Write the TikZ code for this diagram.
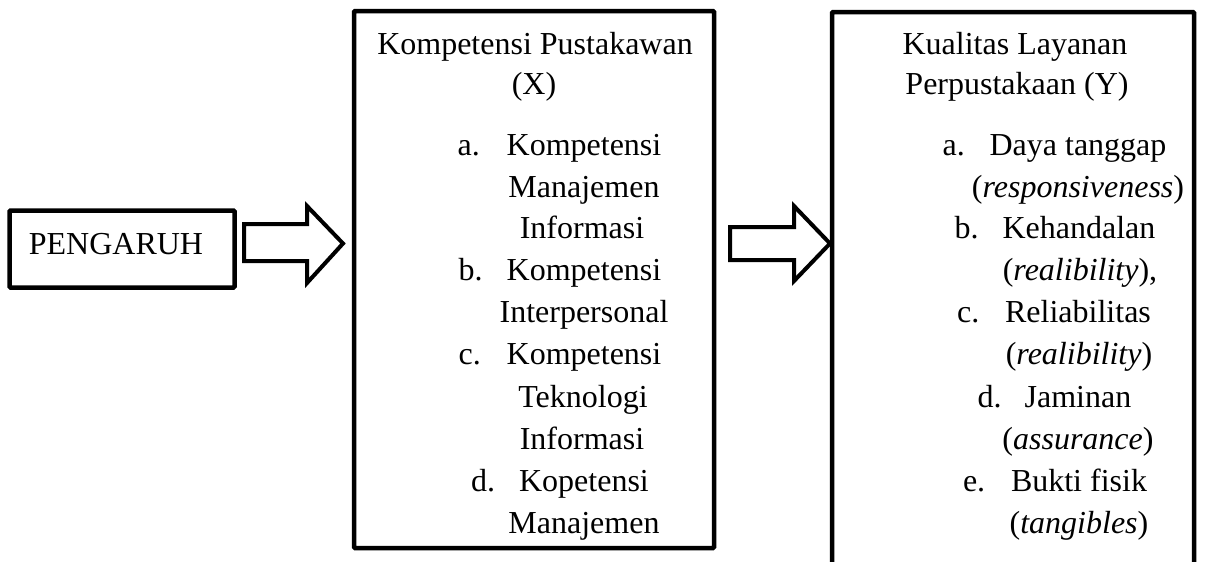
\documentclass[tikz,border=0pt]{standalone}
\usepackage{fontspec}
\setmainfont{Liberation Serif}
\begin{document}
\begin{tikzpicture}[x=1pt,y=-1pt,
  box/.style={draw, line width=4.5pt, inner sep=0pt, rounded corners=1pt},
  txt/.style={inner sep=0pt, anchor=base, font=\fontsize{32}{38}\selectfont},
  lbl/.style={inner sep=0pt, anchor=base west, font=\fontsize{32}{38}\selectfont},
  blockarrow/.style={draw, line width=4pt, line join=miter, fill=white}
]
\useasboundingbox (0,0) rectangle (1227,562);
\clip (0,0) rectangle (1227,562);
% boxes
\node[box, minimum width=225pt, minimum height=77pt] (p) at (122,249) {};
\node[box, minimum width=360pt, minimum height=537pt] (x) at (534,279.5) {};
\node[box, minimum width=362pt, minimum height=600pt] (y) at (1013,312) {};
% PENGARUH
\node[txt] (pt) at (116,254) {PENGARUH};
% block arrows
\draw[blockarrow] (244,224) -- (307,224) -- (307,206) -- (343,243.5) -- (307,283) -- (307,261) -- (244,261) -- cycle;
\draw[blockarrow] (730,227) -- (794,227) -- (794,206) -- (830,243.5) -- (794,281) -- (794,260) -- (730,260) -- cycle;
% middle box texts
\node[txt] (xt1) at (535,54) {Kompetensi Pustakawan};
\node[txt] (xt2) at (534,94) {(X)};
\node[txt] (x1) at (584,155) {Kompetensi};
\node[lbl] (la) at ([xshift=-49pt]x1.base west) {a.};
\node[txt] (x2) at (584,197) {Manajemen};
\node[txt] (x3) at (582,238) {Informasi};
\node[txt] (x4) at (584,280) {Kompetensi};
\node[lbl] (lb) at ([xshift=-48pt]x4.base west) {b.};
\node[txt] (x5) at (584,322) {Interpersonal};
\node[txt] (x6) at (584,364) {Kompetensi};
\node[lbl] (lc) at ([xshift=-48pt]x6.base west) {c.};
\node[txt] (x7) at (583,407) {Teknologi};
\node[txt] (x8) at (582,449) {Informasi};
\node[txt] (x9) at (584,491) {Kopetensi};
\node[lbl] (ld) at ([xshift=-48pt]x9.base west) {d.};
\node[txt] (x10) at (584,533) {Manajemen};
% right box texts
\node[txt] (yt1) at (1015,54) {Kualitas Layanan};
\node[txt] (yt2) at (1017,94) {Perpustakaan (Y)};
\node[txt] (y1) at (1078,155) {Daya tanggap};
\node[lbl] (ya) at ([xshift=-47pt]y1.base west) {a.};
\node[txt] (y2) at (1078,197) {(\textit{responsiveness})};
\node[txt] (y3) at (1079,238) {Kehandalan};
\node[lbl] (yb) at ([xshift=-48pt]y3.base west) {b.};
\node[txt] (y4) at (1080,280) {(\textit{realibility}),};
\node[txt] (y5) at (1078,322) {Reliabilitas};
\node[lbl] (yc) at ([xshift=-48pt]y5.base west) {c.};
\node[txt] (y6) at (1079,364) {(\textit{realibility})};
\node[txt] (y7) at (1078,407) {Jaminan};
\node[lbl] (yd) at ([xshift=-47pt]y7.base west) {d.};
\node[txt] (y8) at (1078,449) {(\textit{assurance})};
\node[txt] (y9) at (1079,491) {Bukti fisik};
\node[lbl] (ye) at ([xshift=-48pt]y9.base west) {e.};
\node[txt] (y10) at (1079,533) {(\textit{tangibles})};
\end{tikzpicture}
\end{document}
